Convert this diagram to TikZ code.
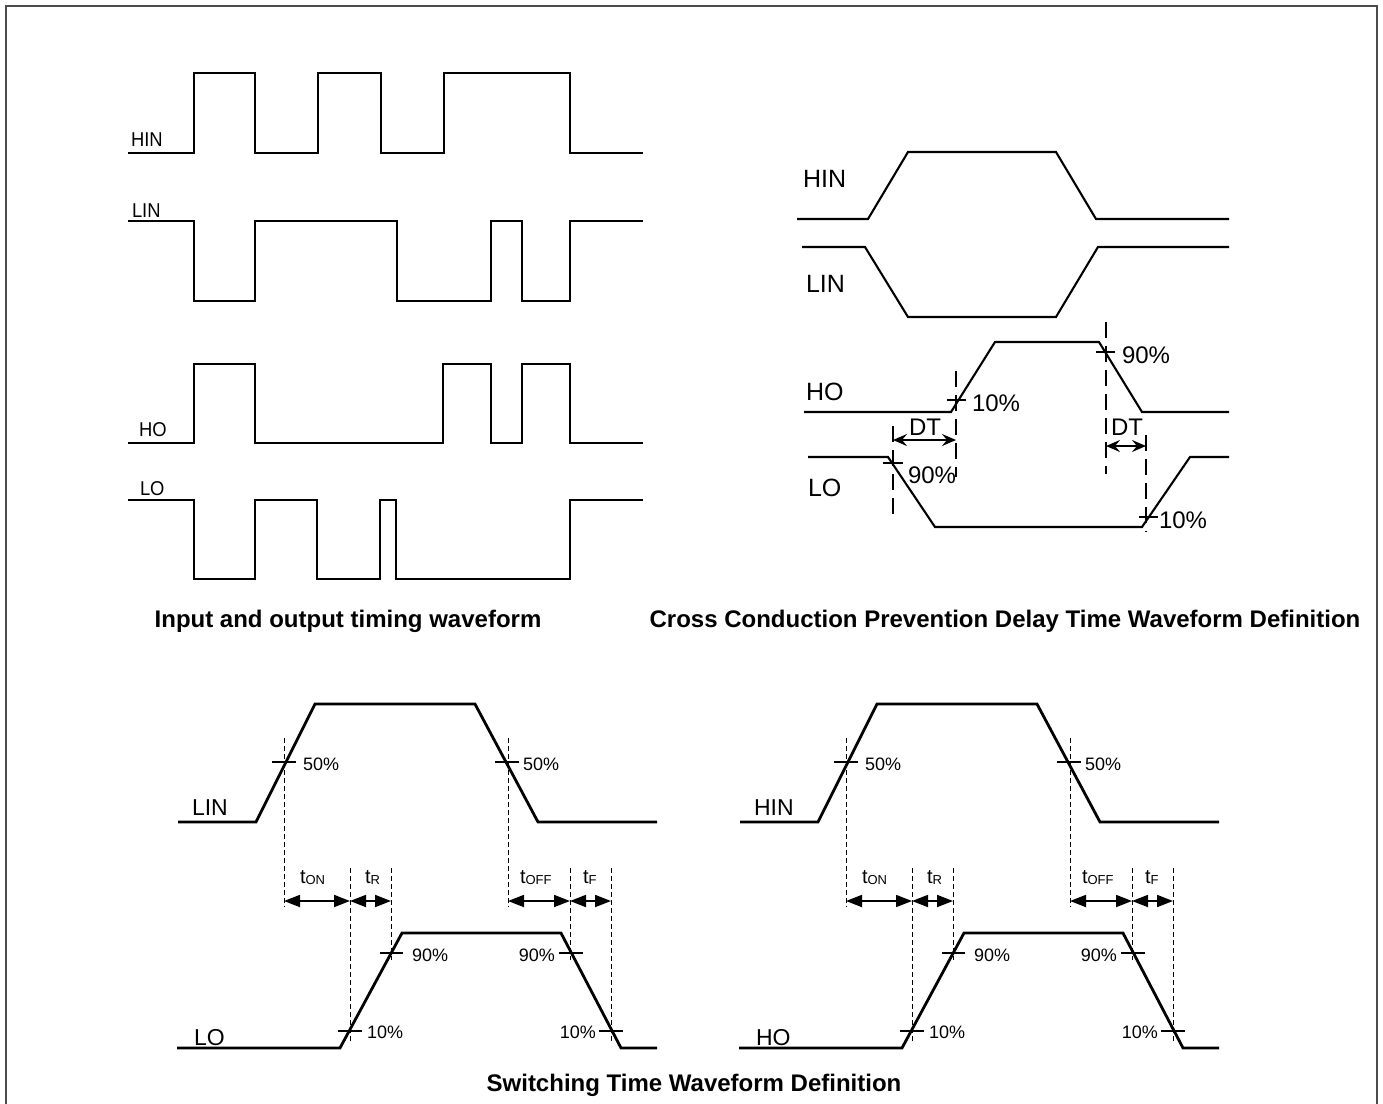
\documentclass[tikz,border=0pt]{standalone}
\usepackage{fontspec}
\setmainfont{Liberation Sans}
\usetikzlibrary{arrows.meta}
\newcommand{\tsub}[2]{{\fontsize{10pt}{12pt}\selectfont #1}\raisebox{-0.8pt}{\fontsize{6.5pt}{7pt}\selectfont #2}}
\tikzset{
  frame/.style={draw=black!70, line width=1pt},
  wthin/.style={line width=0.9pt, line join=miter},
  wmid/.style={line width=1.05pt, line join=miter},
  wthick/.style={line width=1.4pt, line join=miter},
  dashA/.style={line width=0.9pt, dash pattern=on 8pt off 4pt},
  dashB/.style={line width=0.5pt, dash pattern=on 2.5pt off 1.5pt},
  tickA/.style={line width=0.9pt},
  tickB/.style={line width=0.6pt},
  dtarrow/.style={line width=1pt, {Stealth[length=7pt,width=6pt,inset=2.5pt]}-{Stealth[length=7pt,width=6pt,inset=2.5pt]}},
  swarrow/.style={line width=0.9pt, {Triangle[length=8pt,width=6pt]}-{Triangle[length=8pt,width=6pt]}},
  txt/.style={inner sep=0pt, outer sep=0pt},
  lblA/.style={txt, anchor=base west, font=\fontsize{10pt}{12pt}\selectfont},
  lblB/.style={txt, anchor=base west, font=\fontsize{12.5pt}{14pt}\selectfont},
  pctB/.style={txt, font=\fontsize{12pt}{14pt}\selectfont},
  lblC/.style={txt, anchor=base west, font=\fontsize{11.5pt}{13pt}\selectfont},
  pctC/.style={txt, font=\fontsize{9pt}{11pt}\selectfont},
  title/.style={txt, font=\bfseries\fontsize{12pt}{14pt}\selectfont},
}
\newcommand{\swpanel}[4]{%
\begin{scope}[xshift=#2]
  % input waveform
  \draw[wthick] (178,822) -- (256,822) -- (315,704) -- (475,704) -- (538,822) -- (657,822);
  \node[lblC] (#1in) at (192,815) {#3};
  % output waveform
  \draw[wthick] (177,1048) -- (340,1048) -- (402,933) -- (561,933) -- (621,1048) -- (657,1048);
  \node[lblC] (#1out) at (194,1045) {#4};
  % reference points
  \coordinate (#1a) at (284,901);
  \coordinate (#1b) at (350,901);
  \coordinate (#1c) at (391,901);
  \coordinate (#1d) at (508,901);
  \coordinate (#1e) at (570,901);
  \coordinate (#1f) at (611,901);
  % dashed lines
  \draw[dashB] (284,738) -- (284,907);
  \draw[dashB] (508,738) -- (508,907);
  \draw[dashB] (350,868) -- (350,1043);
  \draw[dashB] (391,868) -- (391,960);
  \draw[dashB] (570,868) -- (570,960);
  \draw[dashB] (611,868) -- (611,1043);
  % ticks
  \draw[tickB] (272,762) -- (296,762);
  \draw[tickB] (495,762) -- (519,762);
  \draw[tickB] (338,1031) -- (362,1031);
  \draw[tickB] (380,953) -- (403,953);
  \draw[tickB] (559,953) -- (583,953);
  \draw[tickB] (599,1031) -- (623,1031);
  % percent labels
  \node[pctC, anchor=base west] (#1p1) at (303,770) {50\%};
  \node[pctC, anchor=base west] (#1p2) at (523,770) {50\%};
  \node[pctC, anchor=base west] (#1p3) at (367,1038) {10\%};
  \node[pctC, anchor=base west] (#1p4) at (412,961) {90\%};
  \node[pctC, anchor=base east] (#1p5) at (555,961) {90\%};
  \node[pctC, anchor=base east] (#1p6) at (596,1038) {10\%};
  % time labels
  \node[pctC, anchor=base west] (#1ton) at (300,883) {\tsub{t}{ON}};
  \node[pctC, anchor=base west] (#1tr) at (365,883) {\tsub{t}{R}};
  \node[pctC, anchor=base west] (#1toff) at (520,883) {\tsub{t}{OFF}};
  \node[pctC, anchor=base west] (#1tf) at (583,883) {\tsub{t}{F}};
  % arrows
  \draw[swarrow] (#1a) -- (#1b);
  \draw[swarrow] (#1b) -- (#1c);
  \draw[swarrow] (#1d) -- (#1e);
  \draw[swarrow] (#1e) -- (#1f);
\end{scope}}
\begin{document}
\begin{tikzpicture}[x=0.5pt,y=-0.5pt]
\useasboundingbox (0,0) rectangle (1383,1104);
\draw[frame] (6,1104) -- (6,6) -- (1377,6) -- (1377,1104);

% ---------- Input and output timing waveform ----------
\draw[wthin] (128,153) -- (194,153) -- (194,73) -- (255,73) -- (255,153) -- (318,153) -- (318,73) -- (381,73) -- (381,153) -- (444,153) -- (444,73) -- (570,73) -- (570,153) -- (643,153);
\draw[wthin] (128,221) -- (194,221) -- (194,301) -- (255,301) -- (255,221) -- (397,221) -- (397,301) -- (491,301) -- (491,221) -- (522,221) -- (522,301) -- (570,301) -- (570,221) -- (643,221);
\draw[wthin] (128,443) -- (194,443) -- (194,364) -- (255,364) -- (255,443) -- (443,443) -- (443,364) -- (491,364) -- (491,443) -- (522,443) -- (522,364) -- (570,364) -- (570,443) -- (643,443);
\draw[wthin] (128,500) -- (194,500) -- (194,579) -- (255,579) -- (255,500) -- (317,500) -- (317,579) -- (380,579) -- (380,500) -- (396,500) -- (396,579) -- (570,579) -- (570,500) -- (643,500);
\node[lblA] (tlhin) at (131,146) {\scalebox{0.92}[1]{HIN}};
\node[lblA] (tllin) at (132,217) {\scalebox{0.92}[1]{LIN}};
\node[lblA] (tlho) at (139,436) {\scalebox{0.92}[1]{HO}};
\node[lblA] (tllo) at (140,495) {\scalebox{0.92}[1]{LO}};
\node[title] (title1) at (348,621) {Input and output timing waveform};

% ---------- Cross conduction prevention ----------
\draw[wmid] (797,219) -- (868,219) -- (908,152) -- (1056,152) -- (1096,219) -- (1229,219);
\draw[wmid] (802,247) -- (865,247) -- (908,317) -- (1056,317) -- (1098,247) -- (1229,247);
\draw[wmid] (804,412) -- (951,412) -- (995,342) -- (1099,342) -- (1142,412) -- (1229,412);
\draw[wmid] (808,457) -- (888,457) -- (935,527) -- (1142,527) -- (1190,457) -- (1229,457);
\node[lblB] (trhin) at (803,187) {HIN};
\node[lblB] (trlin) at (806,292) {LIN};
\node[lblB] (trho) at (806,400) {HO};
\node[lblB] (trlo) at (808,496) {LO};
\draw[dashA] (956,371) -- (956,477);
\draw[dashA] (893,426) -- (893,515);
\draw[dashA] (1106,322) -- (1106,474);
\draw[dashA] (1146,435) -- (1146,532);
\draw[tickA] (947,400) -- (966,400);
\draw[tickA] (883,463) -- (903,463);
\draw[tickA] (1096,352) -- (1115,352);
\draw[tickA] (1139,517) -- (1158,517);
\node[pctB, anchor=base west] (trp1) at (972,411) {10\%};
\node[pctB, anchor=base west] (trp2) at (908,483) {90\%};
\node[pctB, anchor=base west] (trp3) at (1122,363) {90\%};
\node[pctB, anchor=base west] (trp4) at (1159,528) {10\%};
\coordinate (dt1a) at (893,440);
\coordinate (dt1b) at (956,440);
\coordinate (dt2a) at (1106,446);
\coordinate (dt2b) at (1146,446);
\draw[dtarrow] (dt1a) -- (dt1b);
\draw[dtarrow] (dt2a) -- (dt2b);
\node[pctB, anchor=base] (dt1) at (925,435) {DT};
\node[pctB, anchor=base] (dt2) at (1127,435) {DT};
\node[title] (title2) at (1005,621) {Cross Conduction Prevention Delay Time Waveform Definition};

% ---------- Switching time ----------
\swpanel{sl}{0pt}{LIN}{LO}
\swpanel{sr}{281pt}{HIN}{HO}
\node[title] (title3) at (694,1085) {Switching Time Waveform Definition};
\end{tikzpicture}
\end{document}
